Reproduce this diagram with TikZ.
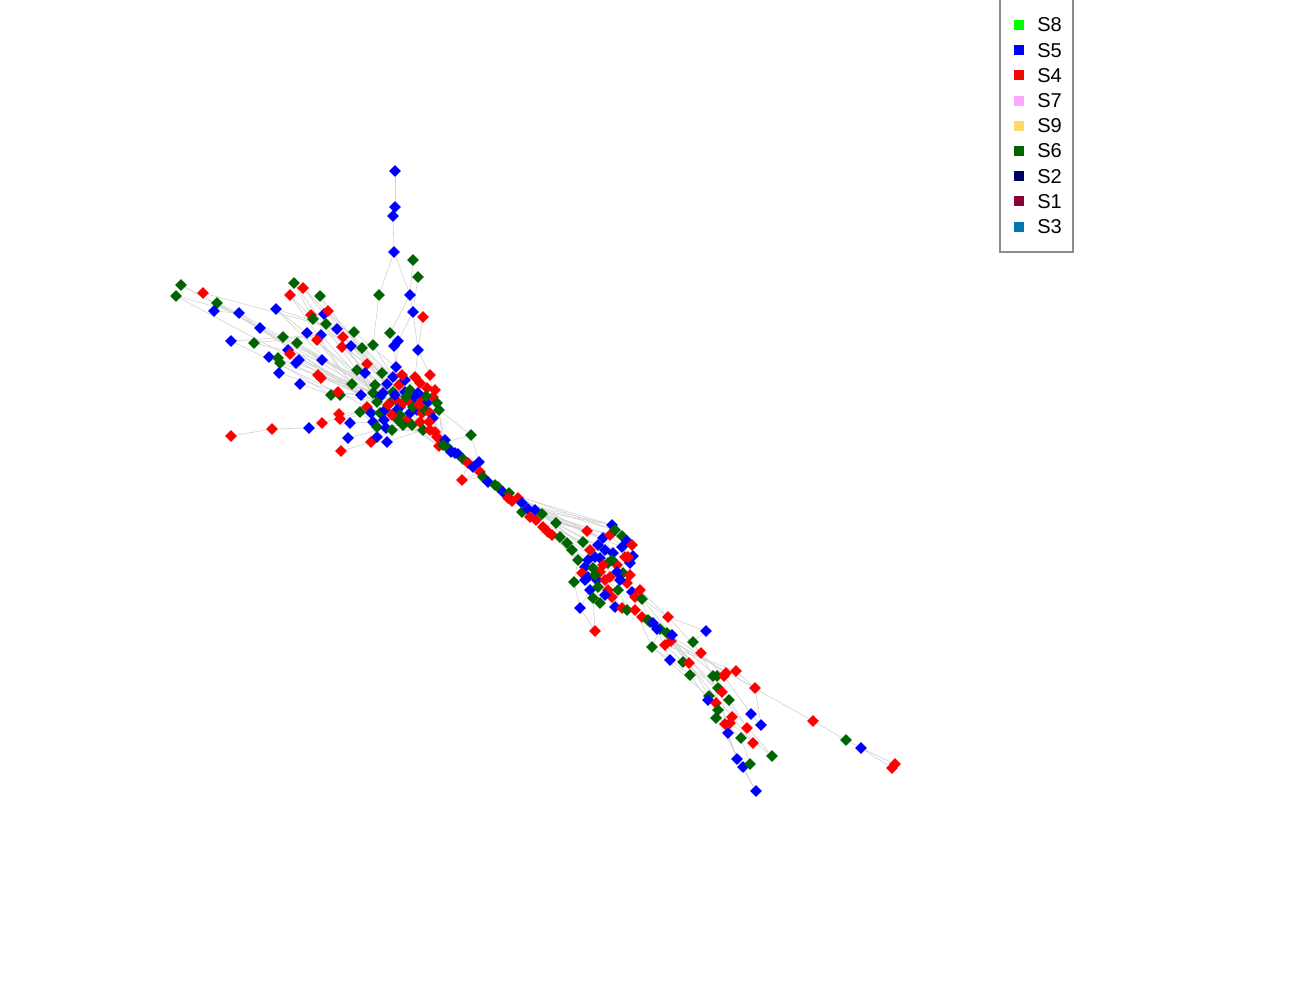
\documentclass[tikz,border=0pt]{standalone}
\usepackage{fontspec}
\setmainfont{Liberation Sans}
\usetikzlibrary{shapes.geometric,backgrounds}
\definecolor{S8}{HTML}{00FF00}
\definecolor{S5}{HTML}{0000FF}
\definecolor{S4}{HTML}{FF0000}
\definecolor{S7}{HTML}{FFA6FF}
\definecolor{S9}{HTML}{FFD966}
\definecolor{S6}{HTML}{006400}
\definecolor{S2}{HTML}{000066}
\definecolor{S1}{HTML}{8B0037}
\definecolor{S3}{HTML}{0077B3}
\definecolor{linkgray}{HTML}{D2D2D2}
\definecolor{framegray}{HTML}{8C8C8C}

\begin{document}
\begin{tikzpicture}[
  x=0.2mm,y=-0.2mm,
  font=\fontsize{11.4}{13}\selectfont,
  vertex/.style={diamond,aspect=1,draw=none,inner sep=0pt,minimum width=2.45mm,minimum height=2.45mm},
  link/.style={draw=linkgray,line width=0.35pt},
  swatch/.style={rectangle,draw=none,inner sep=0pt,minimum size=2mm},
  entry/.style={anchor=west,inner sep=0pt,text=black}
]
\useasboundingbox (0,0) rectangle (1300,1000);

% Vertices: name/x/y/group (5 = S5, 4 = S4, 6 = S6)
% top chain
\foreach \nm/\px/\py/\col in {
  t1/395/171/5, t2/395/207/5, t3/393/216/5, t4/394/252/5, t5/413/260/6,
  t6/418/277/6, t7/379/295/6, t8/410/295/5, t9/413/312/5, t10/423/317/4,
  t11/390/333/6, t12/398/341/5, t13/394/346/5, t14/418/350/5}
  \node[vertex,fill=S\col] (\nm) at (\px,\py) {};

% west fan
\foreach \nm/\px/\py/\col in {
  w1/181/285/6, w2/176/296/6, w3/203/293/4, w4/217/303/6, w5/214/311/5,
  w6/239/313/5, w7/260/328/5, w8/231/341/5, w9/254/343/6, w10/276/309/5,
  w11/294/283/6, w12/303/288/4, w13/290/295/4, w14/320/296/6, w15/311/315/4,
  w16/313/319/6, w17/324/314/5, w18/328/311/4, w19/326/324/6, w20/337/329/5,
  w21/321/335/5, w22/317/340/4, w23/307/333/5, w24/297/343/6, w25/283/337/6,
  w26/288/350/5, w27/290/354/4, w28/269/357/5, w29/278/358/6, w30/280/363/6,
  w31/279/373/5, w32/296/363/5, w33/299/360/5, w34/300/384/5, w35/322/360/5,
  w36/318/375/4, w37/321/378/4, w38/342/347/4, w39/343/337/4, w40/351/346/5,
  w41/354/332/6, w42/362/348/6, w43/373/345/6, w44/331/395/6, w45/340/395/6,
  w46/338/392/4, w47/231/436/4, w48/272/429/4, w49/309/428/5, w50/322/423/4,
  w51/339/414/4, w52/340/419/4, w53/350/423/5, w54/348/438/5, w55/341/451/4,
  w56/371/442/4, w57/377/437/5, w58/387/442/5, w59/357/370/6, w60/352/384/6}
  \node[vertex,fill=S\col] (\nm) at (\px,\py) {};

% first cluster
\foreach \nm/\px/\py/\col in {
  c1/367/364/4, c2/365/373/5, c3/382/373/6, c4/396/367/5, c5/393/377/5,
  c6/430/375/4, c7/415/377/4, c8/420/383/4, c9/387/384/5, c10/399/385/4,
  c11/435/390/4, c12/433/397/4, c13/361/395/5, c14/373/393/6, c15/380/397/5,
  c16/383/393/5, c17/377/402/6, c18/393/392/6, c19/391/402/6, c20/396/400/4,
  c21/400/407/5, c22/403/403/4, c23/410/402/4, c24/415/397/5, c25/422/400/4,
  c26/427/403/5, c27/437/403/6, c28/439/410/6, c29/367/407/4, c30/360/412/6,
  c31/371/413/5, c32/380/413/6, c33/385/410/5, c34/397/410/5, c35/400/415/6,
  c36/407/420/4, c37/410/413/5, c38/417/410/5, c39/422/413/4, c40/425/410/6,
  c41/430/413/4, c42/433/418/5, c43/373/422/5, c44/377/427/6, c45/386/428/5,
  c46/392/430/6, c47/403/425/6, c48/412/425/6, c49/420/422/4, c50/423/430/6,
  c51/430/430/4, c52/435/432/4, c53/437/437/4, c54/443/443/5, c55/450/450/5,
  c56/447/447/6, c57/439/446/4, c58/455/453/5, c59/405/392/5, c60/427/388/4,
  c61/410/390/6, c62/426/396/6, c63/405/380/5, c64/388/405/4, c65/395/395/5,
  c66/406/397/6, c67/413/407/6, c68/419/405/4, c69/384/420/5, c70/398/420/6,
  c71/429/422/4, c72/375/385/6, c73/402/375/4, c74/392/415/4, c75/418/393/5}
  \node[vertex,fill=S\col] (\nm) at (\px,\py) {};

% diagonal chain
\foreach \nm/\px/\py/\col in {
  d1/471/435/6, d2/445/440/5, d3/443/445/6, d5/451/452/5, d6/458/454/5,
  d7/463/459/6, d8/468/463/4, d9/479/462/5, d10/473/467/5, d11/462/480/4,
  d12/480/472/4, d13/483/477/6, d14/488/482/5, d15/495/485/6, d16/498/487/6,
  d17/503/492/5, d18/509/493/6, d19/508/498/4, d20/512/501/4, d21/518/498/4,
  d22/522/503/5, d23/522/512/6, d24/528/509/5, d25/535/510/5, d26/530/517/4,
  d27/536/520/4, d28/542/514/6, d29/556/523/6, d30/543/527/4, d31/548/532/4,
  d32/552/535/4, d33/560/537/6}
  \node[vertex,fill=S\col] (\nm) at (\px,\py) {};

% second cluster
\foreach \nm/\px/\py/\col in {
  m1/587/531/4, m2/612/525/5, m3/567/543/6, m4/572/550/6, m5/583/542/6,
  m6/603/538/5, m7/610/535/4, m8/622/536/6, m9/627/541/5, m10/632/545/4,
  m11/578/560/6, m12/595/557/5, m13/605/550/5, m14/613/553/5, m15/622/547/5,
  m16/625/557/4, m17/630/563/5, m18/585/567/5, m19/593/568/6, m20/608/563/6,
  m21/617/565/4, m22/582/573/4, m23/588/577/5, m24/597/580/5, m25/605/580/4,
  m26/623/573/6, m27/574/582/6, m28/590/590/5, m29/593/598/6, m30/598/587/6,
  m31/608/590/4, m32/618/590/6, m33/627/583/4, m34/632/592/5, m35/635/597/4,
  m36/642/599/6, m37/580/608/5, m38/615/607/5, m39/622/608/4, m40/627/610/6,
  m41/635/610/4, m42/642/617/4, m43/648/620/6, m44/595/631/4, m45/633/556/5,
  m46/628/557/4, m47/617/572/5, m48/610/577/4, m49/600/572/4, m50/585/580/5,
  m51/612/597/4, m52/605/595/5, m53/600/558/5, m54/615/530/6, m55/598/545/5,
  m56/590/550/4, m57/612/560/6, m58/603/565/4, m59/620/580/5, m60/595/575/6,
  m61/588/560/5, m62/630/575/4, m63/640/590/4, m64/600/603/6}
  \node[vertex,fill=S\col] (\nm) at (\px,\py) {};

% south-east tail
\foreach \nm/\px/\py/\col in {
  s1/650/622/6, s2/653/623/5, s3/668/617/4, s4/660/629/6, s5/667/633/6,
  s6/652/647/6, s7/665/645/4, s8/671/641/4, s9/693/642/6, s10/706/631/5,
  s11/701/653/4, s12/670/660/5, s13/683/662/6, s14/689/663/4, s15/690/675/6,
  s16/713/676/6, s17/717/676/6, s18/724/676/4, s19/726/673/4, s20/736/671/4,
  s21/755/688/4, s22/718/688/6, s23/722/692/4, s24/709/696/6, s25/708/700/5,
  s26/716/703/4, s27/729/700/6, s28/718/710/6, s29/716/718/6, s30/732/717/4,
  s31/725/724/4, s32/730/723/4, s33/751/714/5, s34/761/725/5, s35/747/728/4,
  s36/728/733/5, s37/741/738/6, s38/753/743/4, s39/772/756/6, s40/737/759/5,
  s41/743/767/5, s42/750/764/6, s43/756/791/5, s44/813/721/4, s45/846/740/6,
  s46/861/748/5, s47/892/768/4, s48/895/764/4, s49/657/629/5, s50/672/635/5}
  \node[vertex,fill=S\col] (\nm) at (\px,\py) {};

% links behind the vertices
\begin{scope}[on background layer]
\foreach \a/\b in {
  t1/t2, t2/t3, t3/t4, t4/t7, t4/t8, t8/t9, t9/t14, t7/w43, t9/t12, t6/t9,
  t10/t14, t11/t12, t12/c4, t13/c4, t14/c7, t14/c6, t8/t11, t5/t8,
  w1/w7, w1/c16, w2/w6, w2/c13, w3/w20, w4/w6, w5/w6, w6/w7, w7/c14, w7/c13,
  w6/c16, w8/w21, w9/w35, w9/w21, w10/w20, w10/c13, w11/w15, w11/c14,
  w12/w17, w13/w16, w14/w20, w14/c9, w15/c9, w17/c15, w18/c5, w19/c16,
  w20/c18, w21/c14, w22/c13, w23/c15, w24/c19, w25/w35, w26/c13, w27/c15,
  w28/w44, w29/c17, w30/c14, w31/w46, w32/c14, w33/c15, w34/w44, w35/c18,
  w36/c13, w37/c16, w38/c3, w39/c3, w40/c9, w41/c4, w42/c9, w43/c5, w44/c14,
  w45/c17, w46/c13, w47/w48, w48/w49, w49/w50, w50/c30, w51/c30, w52/c31,
  w53/c43, w54/c45, w55/w56, w56/c46, w57/c45, w58/c50, w59/c14, w60/c13,
  w16/c20, w12/c10, w13/c29, w4/c17, w8/c32, w10/c21, w24/c22, w19/c24,
  c1/c5, c2/c9, c3/c18, c4/c20, c6/c12, c7/c25, c8/c23, c9/c21, c10/c24,
  c11/c26, c12/c27, c13/c17, c14/c19, c15/c22, c16/c33, c17/c35, c18/c34,
  c20/c37, c21/c39, c22/c40, c23/c41, c24/c42, c25/c28, c26/c53, c27/d2,
  c28/d3, c29/c32, c30/c44, c31/c45, c32/c46, c33/c47, c34/c48, c35/c49,
  c36/c50, c37/c51, c38/c52, c39/c57, c40/c54, c41/c56, c42/c55, c43/c46,
  c44/c47, c45/c50, c46/c52, c47/c53, c48/c57, c49/c54, c50/c56, c51/d3,
  c52/d5, c53/d6, c54/d6, c55/d7, c56/d8, c57/d5, c58/d9, c59/c23, c60/c26,
  c61/c38, c62/c28, c63/c25, c64/c36, c65/c67, c66/c71, c69/c53, c70/c52,
  c72/c68, c73/c62, c74/c57, c75/c27,
  d1/c54, d1/d9, d1/c28, d2/d5, d3/d6, d5/d7, d6/d8, d7/d10, d8/d9, d9/d12,
  d10/d13, d11/d8, d11/d12, d11/d13, d12/d14, d13/d15, d14/d16, d15/d17,
  d16/d18, d17/d19, d18/d20, d19/d21, d20/d22, d21/d23, d22/d24, d23/d26,
  d24/d25, d25/d28, d26/d27, d27/d30, d28/d29, d29/m1, d30/d31, d31/d32,
  d32/d33, d33/m3, d21/m1, d22/m2, d24/m6, d25/m2, d27/m5, d28/m7, d23/m3,
  d26/m12, d19/m13, d20/m6, d29/m8, d30/m11, d31/m18, d28/m12, d24/m15,
  d25/m9, d18/m54, d17/m2, d16/m1, d22/m54, d20/m55, d21/m56, d23/m61,
  m1/m6, m2/m7, m3/m11, m4/m19, m5/m12, m6/m14, m7/m15, m8/m10, m9/m16,
  m10/m17, m11/m27, m12/m20, m13/m21, m14/m16, m15/m45, m16/m26, m17/m33,
  m18/m23, m19/m24, m20/m25, m21/m47, m22/m28, m23/m30, m24/m31, m25/m32,
  m26/m33, m27/m37, m28/m29, m29/m44, m30/m38, m31/m39, m32/m40, m33/m35,
  m34/m36, m35/m41, m36/m43, m37/m28, m38/m41, m39/m42, m40/m43, m44/m37,
  m45/m46, m46/m17, m47/m48, m48/m49, m49/m50, m50/m22, m51/m39, m52/m38,
  m53/m12, m54/m2, m55/m57, m56/m58, m57/m62, m58/m59, m60/m63, m61/m64,
  m43/s1, m42/s2, m36/s3, s1/s4, s2/s5, s3/s10, s4/s6, s5/s7, s6/s12, s7/s13,
  s8/s14, s9/s16, s10/s9, s11/s18, s12/s15, s13/s22, s14/s24, s15/s25,
  s16/s28, s17/s27, s18/s33, s19/s20, s20/s21, s21/s34, s22/s29, s23/s31,
  s24/s36, s25/s28, s26/s32, s27/s35, s28/s40, s29/s41, s30/s38, s31/s37,
  s32/s39, s33/s34, s35/s38, s36/s40, s37/s42, s40/s43, s41/s43, s8/s44,
  s44/s45, s45/s46, s46/s47, s46/s48, s3/s11, s5/s19, s7/s20, s8/s21,
  s4/s17, s6/s26, s2/s23, m41/s6, m42/s4, s1/s8, s49/s12, s50/s14, m43/s49,
  m36/s50, s4/s30, s5/s39, m63/s3}
  \draw[link] (\a) -- (\b);
\end{scope}

% legend
\draw[framegray,line width=0.6pt] (1000,0) -- (1000,252) -- (1073,252) -- (1073,0);
\foreach \grp [count=\k] in {8,5,4,7,9,6,2,1,3} {
  \node[swatch,fill=S\grp] (key\grp) at (1019,{25.2*\k-0.2}) {};
  \node[entry] (lab\grp) at (1037,{25.2*\k-0.2}) {S\grp};
}

\end{tikzpicture}
\end{document}
